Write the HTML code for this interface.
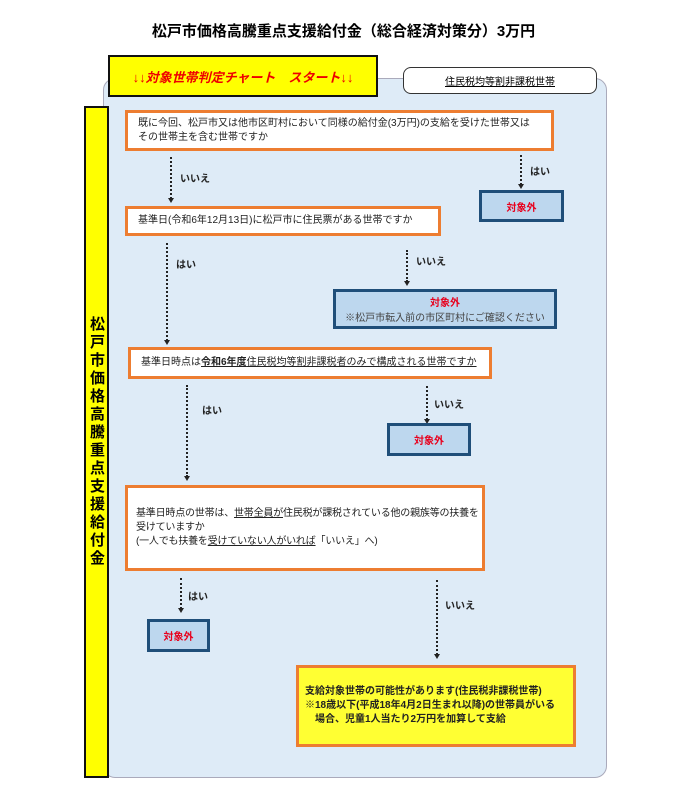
<!DOCTYPE html>
<html><head><meta charset="utf-8"><style>
body{margin:0;width:687px;height:800px;background:#fff;position:relative;font-family:"Liberation Sans","Noto Sans CJK JP",sans-serif;overflow:hidden}
.a{position:absolute;box-sizing:border-box}
.q{background:#fff;border:3px solid #ed7d31;font-size:10px;color:#222;padding:0 10px;display:flex;align-items:center;line-height:14px;white-space:nowrap}
.n{background:#bdd7ee;border:3px solid #1f4e79;font-size:10px;color:#e8001c;font-weight:bold;text-align:center;display:flex;flex-direction:column;justify-content:center}
.n span{color:#444;font-weight:normal}
.v{position:absolute;border-left:2px dotted #222;width:0}
.v:after{content:"";position:absolute;left:-4px;bottom:-4px;border-left:3px solid transparent;border-right:3px solid transparent;border-top:5px solid #222}
.l{position:absolute;font-size:10px;font-weight:bold;color:#222}
u{text-decoration:underline}
</style></head><body>
<div class="a" style="left:0;top:20px;width:687px;text-align:center;font-size:15px;font-weight:bold">松戸市価格高騰重点支援給付金（総合経済対策分）3万円</div>
<div class="a" style="left:103px;top:78px;width:504px;height:700px;background:#deebf7;border:1px solid #aab;border-radius:12px"></div>
<div class="a" style="left:84px;top:106px;width:25px;height:672px;background:#ffff00;border:2px solid #111;font-size:15px;font-weight:bold;writing-mode:vertical-rl;text-orientation:upright;display:flex;align-items:center;justify-content:center;letter-spacing:3px">松戸市価格高騰重点支援給付金</div>
<div class="a" style="left:108px;top:55px;width:270px;height:42px;background:#ffff00;border:2px solid #111;color:#e00;font-style:italic;font-weight:bold;font-size:13px;display:flex;align-items:center;justify-content:center">↓↓対象世帯判定チャート　スタート↓↓</div>
<div class="a" style="left:403px;top:67px;width:194px;height:27px;background:#fff;border:1px solid #333;border-radius:8px;font-size:10px;display:flex;align-items:center;justify-content:center"><u>住民税均等割非課税世帯</u></div>

<div class="a q" style="left:125px;top:110px;width:429px;height:41px"><div>既に今回、松戸市又は他市区町村において同様の給付金(3万円)の支給を受けた世帯又は<br>その世帯主を含む世帯ですか</div></div>
<div class="v" style="left:170px;top:157px;height:42px"></div><div class="l" style="left:180px;top:170px">いいえ</div>
<div class="v" style="left:520px;top:155px;height:30px"></div><div class="l" style="left:530px;top:163px">はい</div>
<div class="a n" style="left:479px;top:190px;width:85px;height:32px">対象外</div>

<div class="a q" style="left:125px;top:206px;width:316px;height:30px"><div>基準日(令和6年12月13日)に松戸市に住民票がある世帯ですか</div></div>
<div class="v" style="left:166px;top:243px;height:98px"></div><div class="l" style="left:176px;top:256px">はい</div>
<div class="v" style="left:406px;top:250px;height:32px"></div><div class="l" style="left:416px;top:253px">いいえ</div>
<div class="a n" style="left:333px;top:289px;width:224px;height:40px">対象外<span>※松戸市転入前の市区町村にご確認ください</span></div>

<div class="a q" style="left:128px;top:347px;width:364px;height:32px"><div>基準日時点は<u><b>令和6年度</b>住民税均等割非課税者のみで構成される世帯ですか</u></div></div>
<div class="v" style="left:186px;top:385px;height:92px"></div><div class="l" style="left:202px;top:402px">はい</div>
<div class="v" style="left:426px;top:386px;height:34px"></div><div class="l" style="left:434px;top:396px">いいえ</div>
<div class="a n" style="left:387px;top:423px;width:84px;height:33px">対象外</div>

<div class="a q" style="left:125px;top:485px;width:360px;height:86px;padding:0 8px;letter-spacing:-0.2px"><div>基準日時点の世帯は、<u>世帯全員が</u>住民税が課税されている他の親族等の扶養を<br>受けていますか<br>(一人でも扶養を<u>受けていない人がいれば</u>「いいえ」へ)</div></div>
<div class="v" style="left:180px;top:578px;height:31px"></div><div class="l" style="left:188px;top:588px">はい</div>
<div class="a n" style="left:147px;top:619px;width:63px;height:33px">対象外</div>
<div class="v" style="left:436px;top:580px;height:75px"></div><div class="l" style="left:445px;top:597px">いいえ</div>

<div class="a" style="left:296px;top:665px;width:280px;height:82px;background:#ffff33;border:3px solid #ed7d31;font-size:10px;font-weight:bold;color:#222;padding:0 6px;display:flex;align-items:center;line-height:14px"><div>支給対象世帯の可能性があります(住民税非課税世帯)<br>※18歳以下(平成18年4月2日生まれ以降)の世帯員がいる<br>　場合、児童1人当たり2万円を加算して支給</div></div>
</body></html>
